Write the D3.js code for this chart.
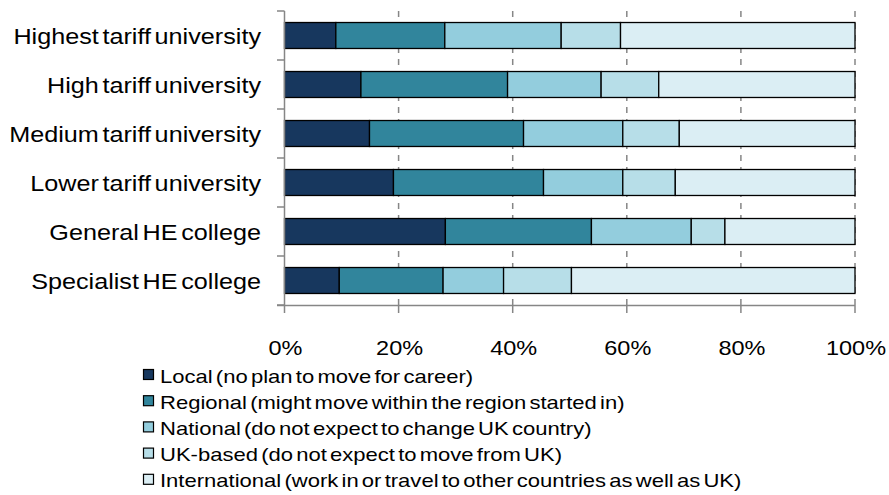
<!DOCTYPE html>
<html>
<head>
<meta charset="utf-8">
<script src="https://cdn.jsdelivr.net/npm/d3@7"></script>
<style>
  body { margin: 0; background: #fff; }
  text { font-family: "Liberation Sans", Arial, sans-serif; fill: #000; }
</style>
</head>
<body>
<div id="chart"></div>
<script>
var w = 889;
var h = 495;

// data (percent of students)
var categories = ["Highest tariff university", "High tariff university", "Medium tariff university",
                  "Lower tariff university", "General HE college", "Specialist HE college"];
var seriesNames = ["Local (no plan to move for career)",
                   "Regional (might move within the region started in)",
                   "National (do not expect to change UK country)",
                   "UK-based (do not expect to move from UK)",
                   "International (work in or travel to other countries as well as UK)"];
var local = [9, 13.4, 14.9, 19.1, 28.2, 9.6];
var regional = [19.1, 25.7, 27, 26.3, 25.6, 18.2];
var national = [20.4, 16.4, 17.4, 13.9, 17.5, 10.6];
var ukBased = [10.4, 10.1, 9.9, 9.2, 5.9, 11.9];
var international = [41.1, 34.4, 30.8, 31.5, 22.8, 49.7];
var tickValues = [0, 20, 40, 60, 80, 100];

var colors = ["#17375E", "#31859C", "#93CDDD", "#B7DEE8", "#DBEEF4"];

// the original text is drawn a bit wide, so stretch it sideways
var stretch = 1.12;

var rows = categories.map(function(c, i) {
    return {cat: c, s0: local[i], s1: regional[i], s2: national[i], s3: ukBased[i], s4: international[i]};
});
var keys = ["s0", "s1", "s2", "s3", "s4"];
var stacked = d3.stack().keys(keys)(rows);

var svg = d3.select("#chart").append("svg")
    .attr("width", w)
    .attr("height", h);

var x = d3.scaleLinear().domain([0, 100]).range([284.5, 855]);
var y = d3.scaleBand().domain(categories).range([11, 305])
    .paddingInner(0.47).paddingOuter(0.235);

// dashed gridlines
svg.append("g").selectAll("line")
    .data(tickValues.slice(1))
    .join("line")
    .attr("x1", function(d) { return x(d); })
    .attr("x2", function(d) { return x(d); })
    .attr("y1", 11)
    .attr("y2", 305)
    .attr("stroke", "#868686")
    .attr("stroke-width", 1.5)
    .attr("stroke-dasharray", "6,6");

// bars
svg.append("g").selectAll("g")
    .data(stacked)
    .join("g")
    .attr("fill", function(d, i) { return colors[i]; })
    .selectAll("rect")
    .data(function(d) { return d; })
    .join("rect")
    .attr("x", function(d) { return x(d[0]); })
    .attr("width", function(d) { return x(d[1]) - x(d[0]); })
    .attr("y", function(d) { return y(d.data.cat); })
    .attr("height", y.bandwidth())
    .attr("stroke", "#000")
    .attr("stroke-width", 1.3);

// left axis
var step = y.step();
var yTicks = d3.range(categories.length + 1).map(function(i) { return 11 + i * step; });
svg.append("line")
    .attr("x1", 284.5).attr("x2", 284.5)
    .attr("y1", 11).attr("y2", 305)
    .attr("stroke", "#868686").attr("stroke-width", 1.5);
svg.append("g").selectAll("line")
    .data(yTicks)
    .join("line")
    .attr("x1", 277).attr("x2", 284.5)
    .attr("y1", function(d) { return d; })
    .attr("y2", function(d) { return d; })
    .attr("stroke", "#868686").attr("stroke-width", 1.5);

svg.append("g").selectAll("text")
    .data(categories)
    .join("text")
    .attr("transform", function(d) {
        return "translate(261," + (y(d) + y.bandwidth() / 2) + ") scale(" + stretch + ",1)";
    })
    .attr("dy", "0.36em")
    .attr("text-anchor", "end")
    .style("font-size", "22.5px")
    .style("word-spacing", "-3px")
    .text(function(d) { return d; });

// bottom axis
svg.append("line")
    .attr("x1", 277).attr("x2", 855)
    .attr("y1", 305.5).attr("y2", 305.5)
    .attr("stroke", "#868686").attr("stroke-width", 1.5);
svg.append("g").selectAll("line")
    .data(tickValues)
    .join("line")
    .attr("x1", function(d) { return x(d); })
    .attr("x2", function(d) { return x(d); })
    .attr("y1", 305).attr("y2", 313)
    .attr("stroke", "#868686").attr("stroke-width", 1.5);
svg.append("g").selectAll("text")
    .data(tickValues)
    .join("text")
    .attr("transform", function(d) { return "translate(" + (x(d) + 1) + ",355) scale(" + stretch + ",1)"; })
    .attr("text-anchor", "middle")
    .style("font-size", "21px")
    .text(function(d) { return d + "%"; });

// legend
var legend = svg.append("g").selectAll("g")
    .data(seriesNames)
    .join("g")
    .attr("transform", function(d, i) { return "translate(143," + (375 + i * 26.2) + ")"; });
legend.append("rect")
    .attr("x", 0.5).attr("y", -5.5)
    .attr("width", 10).attr("height", 10)
    .attr("fill", function(d, i) { return colors[i]; })
    .attr("stroke", "#000").attr("stroke-width", 1.2);
legend.append("text")
    .attr("transform", "translate(17,0) scale(1.16,1)")
    .attr("dy", "0.4em")
    .style("font-size", "19px")
    .style("word-spacing", "-2.5px")
    .text(function(d) { return d; });
</script>
</body>
</html>
